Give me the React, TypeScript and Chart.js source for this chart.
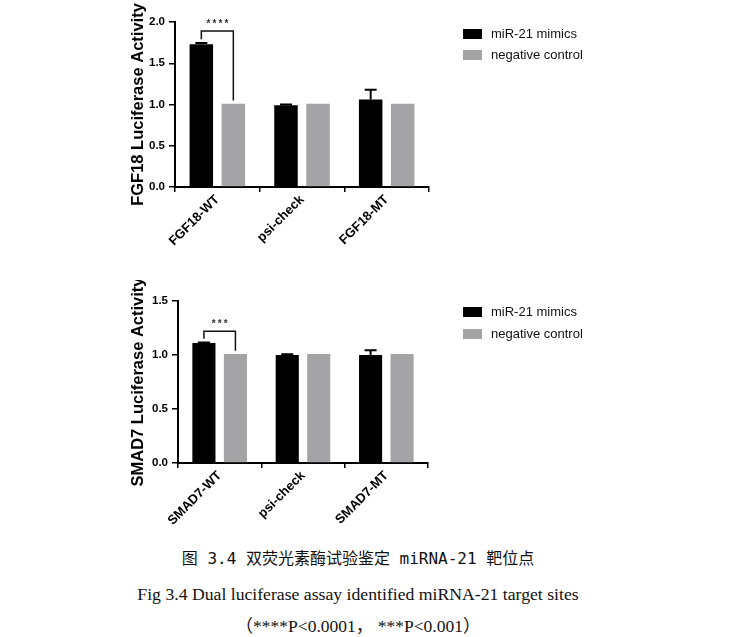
import React, { useEffect, useRef } from "react";
import { Chart, registerables } from "chart.js";

Chart.register(...registerables);

// ---------- DATA ----------
const seriesLabels = ["miR-21 mimics", "negative control"];

const fgfCategories = ["FGF18-WT", "psi-check", "FGF18-MT"];
const fgfMimics = [1.73, 0.99, 1.06];
const fgfMimicsErr = [0.015, 0.01, 0.12];
const fgfControl = [1.01, 1.01, 1.01];
const fgfTickLabels = ["0.0", "0.5", "1.0", "1.5", "2.0"];
const fgfAxisTitle = "FGF18 Luciferase Activity";
const fgfSig = "****";
const fgfBracket = [1.89, 1.79, 1.05]; // top, left leg end, right leg end

const smadCategories = ["SMAD7-WT", "psi-check", "SMAD7-MT"];
const smadMimics = [1.11, 1.0, 1.0];
const smadMimicsErr = [0.005, 0.008, 0.045];
const smadControl = [1.01, 1.01, 1.01];
const smadTickLabels = ["0.0", "0.5", "1.0", "1.5"];
const smadAxisTitle = "SMAD7 Luciferase Activity";
const smadSig = "***";
const smadBracket = [1.22, 1.15, 1.04];

const captionCn = "图 3.4 双荧光素酶试验鉴定 miRNA-21 靶位点";
const captionEn = "Fig 3.4 Dual luciferase assay identified miRNA-21 target sites";
const captionP = "（****P<0.0001， ***P<0.001）";

// ---------- STYLE ----------
const BLACK = "#000000";
const GRAY = "#a4a4a6";
const FONT = "'Liberation Sans', Arial, sans-serif";

const errorBarPlugin = {
  id: "errorBars",
  afterDatasetsDraw(chart: any) {
    const ctx = chart.ctx;
    const yScale = chart.scales.y;
    chart.data.datasets.forEach((ds: any, di: number) => {
      if (!ds.errors) return;
      const meta = chart.getDatasetMeta(di);
      meta.data.forEach((el: any, i: number) => {
        const v = ds.data[i];
        const e = ds.errors[i];
        const yTop = yScale.getPixelForValue(v + e);
        ctx.save();
        ctx.strokeStyle = BLACK;
        ctx.lineWidth = 2;
        ctx.beginPath();
        ctx.moveTo(el.x, el.y);
        ctx.lineTo(el.x, yTop);
        ctx.moveTo(el.x - 6, yTop);
        ctx.lineTo(el.x + 6, yTop);
        ctx.stroke();
        ctx.restore();
      });
    });
  },
};

const bracketPlugin = {
  id: "sigBracket",
  afterDatasetsDraw(chart: any, _args: any, opts: any) {
    if (!opts || !opts.values) return;
    const ctx = chart.ctx;
    const y = chart.scales.y;
    const x1 = chart.getDatasetMeta(0).data[0].x;
    const x2 = chart.getDatasetMeta(1).data[0].x;
    const [top, l, r] = opts.values;
    const yt = y.getPixelForValue(top);
    ctx.save();
    ctx.strokeStyle = "#111";
    ctx.lineWidth = 1.5;
    ctx.beginPath();
    ctx.moveTo(x1, y.getPixelForValue(l));
    ctx.lineTo(x1, yt);
    ctx.lineTo(x2, yt);
    ctx.lineTo(x2, y.getPixelForValue(r));
    ctx.stroke();
    ctx.fillStyle = "#333";
    ctx.font = `bold 10px ${FONT}`;
    ctx.textAlign = "center";
    ctx.textBaseline = "middle";
    const n = opts.text.length;
    const cx = (x1 + x2) / 2;
    const gap = 6;
    for (let i = 0; i < n; i++) {
      ctx.fillText(opts.text[i], cx + (i - (n - 1) / 2) * gap, yt - 7);
    }
    ctx.restore();
  },
};

const legendPlugin = {
  id: "customLegend",
  afterDraw(chart: any, _args: any, opts: any) {
    if (!opts || !opts.x) return;
    const ctx = chart.ctx;
    ctx.save();
    chart.data.datasets.forEach((ds: any, i: number) => {
      const cy = opts.y + i * opts.step;
      ctx.fillStyle = ds.backgroundColor;
      ctx.fillRect(opts.x, cy - 5, 19, 10);
      ctx.fillStyle = "#111";
      ctx.font = `13px ${FONT}`;
      ctx.textAlign = "left";
      ctx.textBaseline = "middle";
      ctx.fillText(ds.label, opts.x + 28, cy);
    });
    ctx.restore();
  },
};

type PanelProps = {
  categories: string[];
  mimics: number[];
  mimicsErr: number[];
  control: number[];
  tickLabels: string[];
  yMax: number;
  title: string;
  sig: string;
  bracket: number[];
  left: number;
  top: number;
  width: number;
  height: number;
  areaLeft: number;
  areaRight: number;
  areaTop: number;
  areaBottom: number;
  legendY: number;
  legendStep: number;
};

function Panel(p: PanelProps) {
  const ref = useRef<HTMLCanvasElement | null>(null);
  useEffect(() => {
    if (!ref.current) return;
    const yAxisW = p.areaLeft - p.left;
    const xAxisH = p.top + p.height - p.areaBottom;
    const chart = new Chart(ref.current, {
      type: "bar",
      data: {
        labels: p.categories,
        datasets: [
          {
            label: seriesLabels[0],
            data: p.mimics,
            backgroundColor: BLACK,
            borderWidth: 0,
            errors: p.mimicsErr,
          } as any,
          {
            label: seriesLabels[1],
            data: p.control,
            backgroundColor: GRAY,
            borderWidth: 0,
          },
        ],
      },
      options: {
        animation: false,
        responsive: false,
        devicePixelRatio: 1,
        events: [],
        categoryPercentage: 0.756,
        barPercentage: 0.734,
        layout: {
          padding: {
            top: p.areaTop - p.top,
            left: 0,
            right: p.left + p.width - p.areaRight,
            bottom: 0,
          },
        },
        plugins: {
          legend: { display: false },
          tooltip: { enabled: false },
          sigBracket: { values: p.bracket, text: p.sig },
          customLegend: { x: 463 - p.left, y: p.legendY - p.top, step: p.legendStep },
        } as any,
        scales: {
          x: {
            offset: true,
            grid: {
              display: true,
              drawOnChartArea: false,
              drawTicks: true,
              tickLength: 5,
              color: BLACK,
              lineWidth: 1.5,
            },
            border: { display: true, color: BLACK, width: 2 },
            ticks: {
              color: BLACK,
              font: { family: FONT, size: 13, weight: "bold" },
              minRotation: 45,
              maxRotation: 45,
              padding: 0,
            },
            afterFit: (s: any) => {
              s.height = xAxisH;
            },
          },
          y: {
            min: 0,
            max: p.yMax,
            grid: {
              display: true,
              drawOnChartArea: false,
              drawTicks: true,
              tickLength: 6,
              color: BLACK,
              lineWidth: 1.5,
            },
            border: { display: true, color: BLACK, width: 2 },
            ticks: {
              stepSize: 0.5,
              color: BLACK,
              padding: 4,
              font: { family: FONT, size: 11.5, weight: "bold" },
              callback: (_v: any, i: number) => p.tickLabels[i],
            },
            title: {
              display: true,
              text: p.title,
              color: BLACK,
              font: { family: FONT, size: 16.5, weight: "bold" },
              padding: { top: 3, bottom: 0 },
            },
            afterFit: (s: any) => {
              s.width = yAxisW;
            },
          },
        },
      },
      plugins: [errorBarPlugin, bracketPlugin, legendPlugin],
    } as any);
    return () => chart.destroy();
  }, []);
  return (
    <canvas
      ref={ref}
      width={p.width}
      height={p.height}
      style={{ position: "absolute", left: p.left, top: p.top, width: p.width, height: p.height }}
    />
  );
}

export default function App() {
  return (
    <div style={{ position: "absolute", left: 0, top: 0, width: 754, height: 637, background: "#fff", overflow: "hidden" }}>
      <Panel
        categories={fgfCategories}
        mimics={fgfMimics}
        mimicsErr={fgfMimicsErr}
        control={fgfControl}
        tickLabels={fgfTickLabels}
        yMax={2}
        title={fgfAxisTitle}
        sig={fgfSig}
        bracket={fgfBracket}
        left={126}
        top={0}
        width={628}
        height={270}
        areaLeft={175}
        areaRight={429}
        areaTop={22}
        areaBottom={187}
        legendY={34}
        legendStep={21}
      />
      <Panel
        categories={smadCategories}
        mimics={smadMimics}
        mimicsErr={smadMimicsErr}
        control={smadControl}
        tickLabels={smadTickLabels}
        yMax={1.5}
        title={smadAxisTitle}
        sig={smadSig}
        bracket={smadBracket}
        left={126}
        top={280}
        width={628}
        height={265}
        areaLeft={178}
        areaRight={428}
        areaTop={301}
        areaBottom={463}
        legendY={312}
        legendStep={22}
      />
      <div
        style={{
          position: "absolute",
          left: 0,
          width: 716,
          top: 547,
          textAlign: "center",
          fontFamily: "'DejaVu Sans Mono', 'Noto Sans CJK SC', monospace",
          fontSize: 16,
          lineHeight: "24px",
          color: "#111",
          whiteSpace: "nowrap",
        }}
      >
        {captionCn}
      </div>
      <div
        style={{
          position: "absolute",
          left: 0,
          width: 716,
          top: 582,
          textAlign: "center",
          fontFamily: "'Liberation Serif', 'Times New Roman', serif",
          fontSize: 17.7,
          lineHeight: "24px",
          color: "#111",
          whiteSpace: "nowrap",
        }}
      >
        {captionEn}
      </div>
      <div
        style={{
          position: "absolute",
          left: 0,
          width: 716,
          top: 614,
          textAlign: "center",
          fontFamily: "'Liberation Serif', 'Noto Sans CJK SC', serif",
          fontSize: 17.5,
          lineHeight: "24px",
          color: "#111",
          whiteSpace: "nowrap",
        }}
      >
        {captionP}
      </div>
    </div>
  );
}
